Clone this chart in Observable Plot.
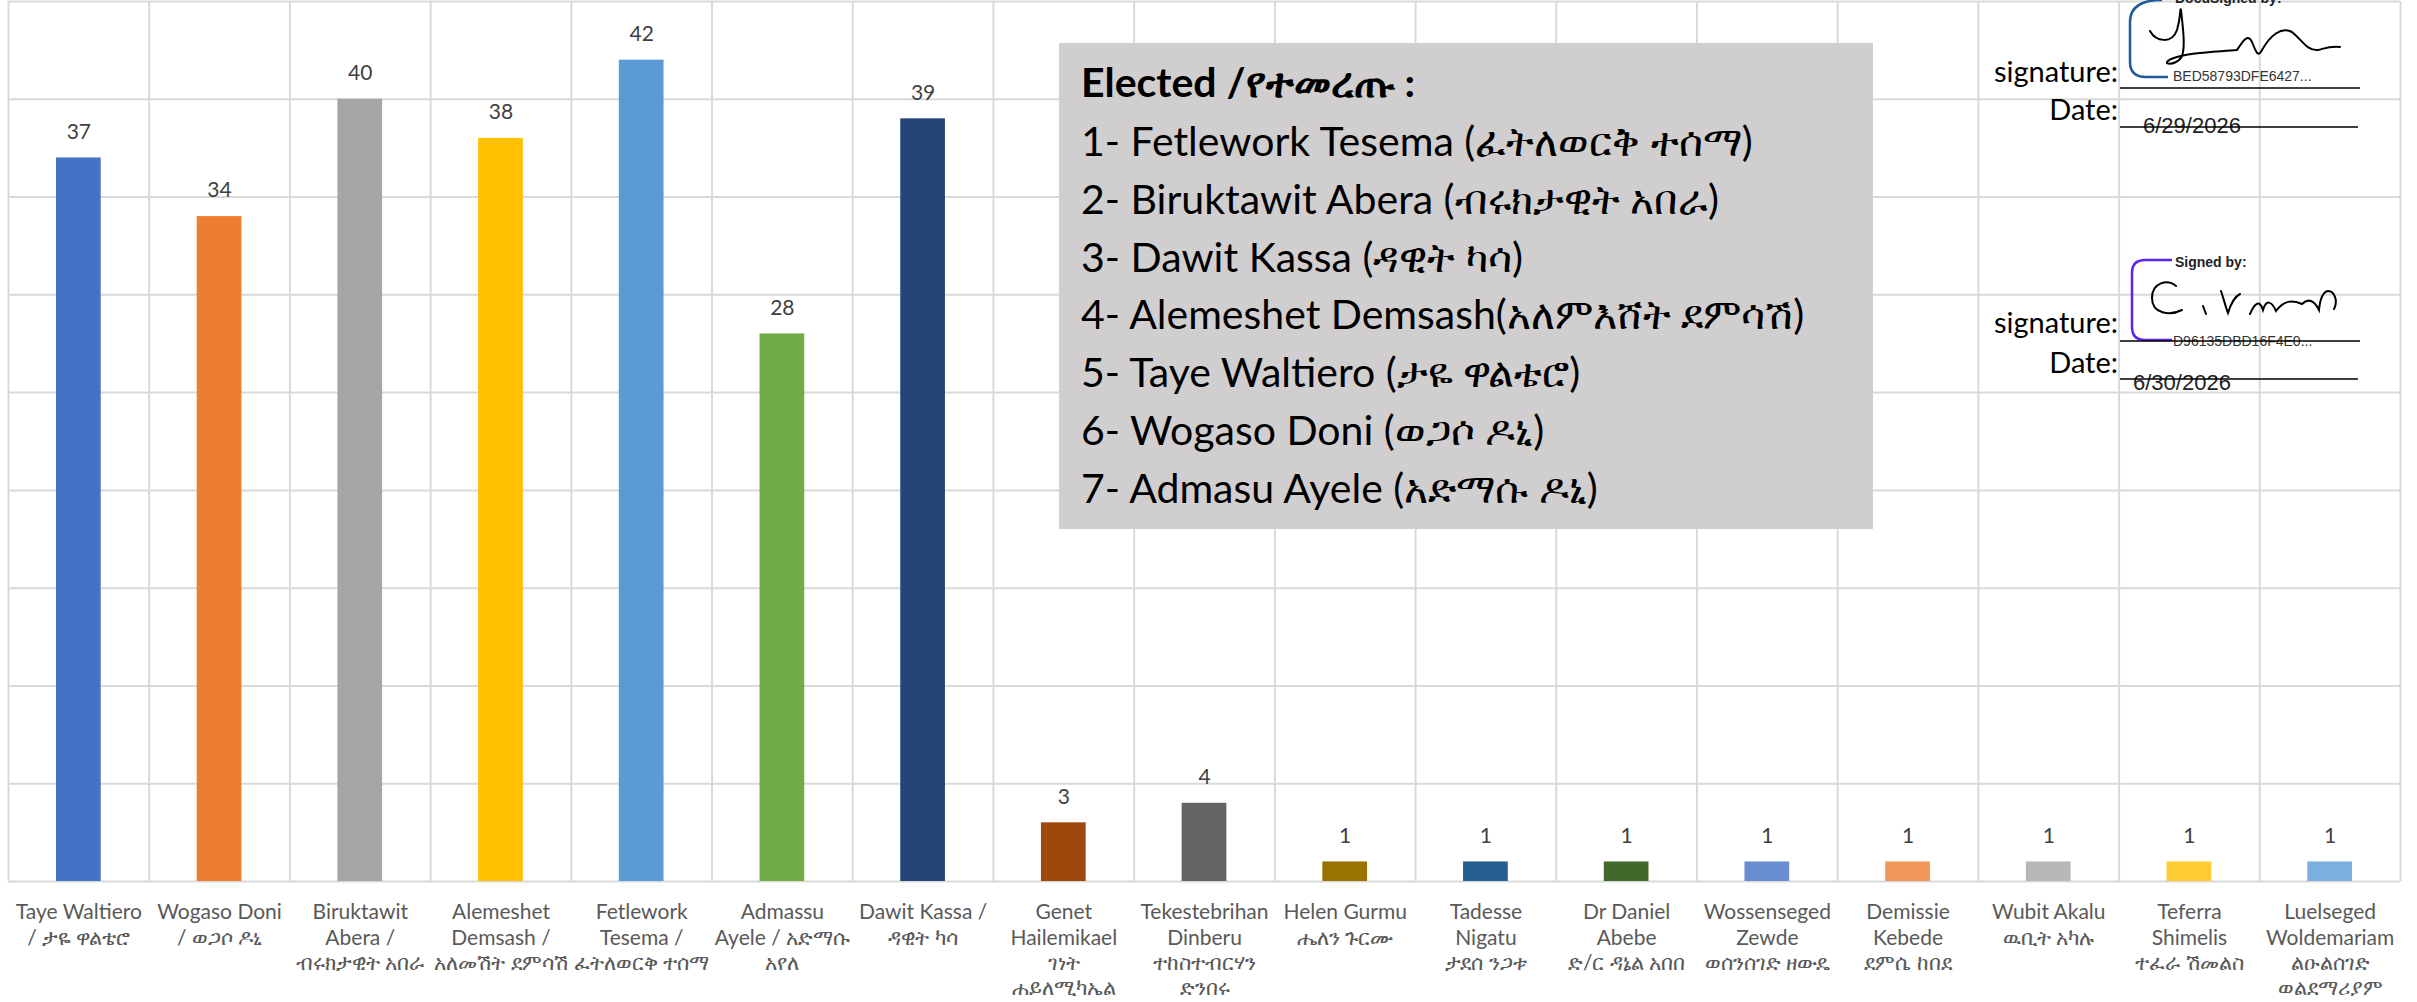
<!DOCTYPE html>
<html>
<head>
<meta charset="utf-8">
<script src="https://cdn.jsdelivr.net/npm/d3@7"></script>
<script src="https://cdn.jsdelivr.net/npm/@observablehq/plot@0.6"></script>
<style>
  html, body { margin: 0; padding: 0; background: #ffffff; }
  #wrap { position: relative; width: 2417px; height: 1002px; overflow: hidden; font-family: Lato, "Noto Sans", "DejaVu Sans", sans-serif; }
  #chart { position: absolute; left: 0; top: 0; }
  #overlay { position: absolute; left: 0; top: 0; pointer-events: none; }
</style>
</head>
<body>
<div id="wrap">
  <div id="chart"></div>
  <svg id="overlay" width="2417" height="1002"></svg>
</div>
<script>
// ---- data ----
const candidates = [
  "Taye Waltiero\n/ ታዬ ዋልቴሮ",
  "Wogaso Doni\n/ ወጋሶ ዶኒ",
  "Biruktawit\nAbera /\nብሩክታዊት አበራ",
  "Alemeshet\nDemsash /\nአለመሽት ደምሳሽ",
  "Fetlework\nTesema /\nፈትለወርቅ ተሰማ",
  "Admassu\nAyele / አድማሱ\nአየለ",
  "Dawit Kassa /\nዳዊት ካሳ",
  "Genet\nHailemikael\nገነት\nሐይለሚካኤል",
  "Tekestebrihan\nDinberu\nተከስተብርሃን\nድንበሩ",
  "Helen Gurmu\nሔለን ጉርሙ",
  "Tadesse\nNigatu\nታደሰ ንጋቱ",
  "Dr Daniel\nAbebe\nድ/ር ዳኔል አበበ",
  "Wossenseged\nZewde\nወሰንሰገድ ዘውዴ",
  "Demissie\nKebede\nደምሴ ከበደ",
  "Wubit Akalu\nዉቢት አካሉ",
  "Teferra\nShimelis\nተፈራ ሽመልስ",
  "Luelseged\nWoldemariam\nልዑልሰገድ\nወልደማሪያም"
];
const votes = [37, 34, 40, 38, 42, 28, 39, 3, 4, 1, 1, 1, 1, 1, 1, 1, 1];
const barColors = [
  "#4472C4", "#ED7D31", "#A5A5A5", "#FFC000", "#5B9BD5", "#70AD47", "#264478",
  "#9E480E", "#636363", "#997300", "#255E91", "#43682B", "#698ED0", "#F1975A",
  "#B7B7B7", "#FFCD33", "#7CAFDD"
];
const gridValues = [0, 5, 10, 15, 20, 25, 30, 35, 40, 45];

const electedTitle = "Elected /የተመረጡ :";
const electedList = [
  "1- Fetlework Tesema (ፈትለወርቅ ተሰማ)",
  "2- Biruktawit Abera (ብሩክታዊት አበራ)",
  "3- Dawit Kassa (ዳዊት ካሳ)",
  "4- Alemeshet Demsash(አለምእሸት ደምሳሽ)",
  "5- Taye Waltiero (ታዬ ዋልቴሮ)",
  "6- Wogaso Doni (ወጋሶ ዶኒ)",
  "7- Admasu Ayele (አድማሱ ዶኒ)"
];

const rows = candidates.map((c, i) => ({i, label: c, votes: votes[i], color: barColors[i]}));
const boundaries = d3.range(candidates.length + 1);

const fontStack = 'Lato, "Noto Sans", "DejaVu Sans", sans-serif';

const chart = Plot.plot({
  width: 2417,
  height: 1002,
  marginLeft: 8,
  marginRight: 17,
  marginTop: 1,
  marginBottom: 121,
  x: {domain: [0, candidates.length], axis: null},
  y: {domain: [0, 45], axis: null},
  style: {fontFamily: fontStack, background: "#ffffff", overflow: "visible"},
  marks: [
    Plot.gridY(gridValues, {stroke: "#d9d9d9", strokeOpacity: 1, strokeWidth: 2}),
    Plot.ruleX(boundaries, {stroke: "#d9d9d9", strokeWidth: 2}),
    Plot.rectY(rows, {x1: "i", x2: d => d.i + 1, y: "votes", fill: "color", insetLeft: 48, insetRight: 48}),
    Plot.text(rows, {x: d => d.i + 0.5, y: "votes", text: d => String(d.votes), dy: -26, fontSize: 21, fill: "#404040"}),
    Plot.text(rows, {x: d => d.i + 0.5, y: 0, text: "label", lineAnchor: "top", dy: 20, fontSize: 21, lineHeight: 1.2, fill: "#595959"})
  ]
});
document.getElementById("chart").appendChild(chart);

// ---- overlay: elected text box and signature block ----
const ov = d3.select("#overlay");
ov.append("rect").attr("x", 1059).attr("y", 43).attr("width", 814).attr("height", 486).attr("fill", "#D0CECE");
ov.append("text").attr("x", 1081).attr("y", 97).attr("font-family", fontStack).attr("font-size", 41)
  .attr("font-weight", "bold").attr("fill", "#000").text(electedTitle);
electedList.forEach((t, k) => {
  ov.append("text").attr("x", 1081).attr("y", 156 + 57.8 * k).attr("font-family", fontStack)
    .attr("font-size", 41).attr("fill", "#000").text(t);
});

const sigBlocks = [
  {sigY: 82, lineY: 88, dateY: 120, dateLineY: 127, dateText: "6/29/2026", dateX: 2143, dateBase: 133,
   head: "DocuSigned by:", headY: 3, code: "BED58793DFE6427...", codeY: 81, bracket: "#1F5B9A",
   bracketPath: "M2162,0 Q2130,0 2130,22 L2130,62 Q2130,77 2146,77 L2168,77",
   ink: "M2150,31 C2156,42 2172,44 2177,30 C2181,17 2180,6 2181,10 C2183,28 2186,50 2181,58 C2174,66 2160,65 2171,59 C2190,52 2216,52 2237,50 C2243,41 2248,33 2252,42 C2256,52 2258,58 2262,50 C2270,36 2281,26 2292,32 C2302,40 2307,51 2318,50 C2326,48 2330,46 2340,47"},
  {sigY: 333, lineY: 341, dateY: 373, dateLineY: 379, dateText: "6/30/2026", dateX: 2133, dateBase: 390,
   head: "Signed by:", headY: 267, code: "D96135DBD16F4E0...", codeY: 346, bracket: "#5B22F2",
   bracketPath: "M2172,260 L2145,260 Q2132,260 2132,273 L2132,327 Q2132,340 2145,340 L2172,340",
   ink: "M2176,286 C2168,279 2152,282 2152,298 C2152,314 2170,316 2182,310 M2203,306 L2206,314 M2221,291 C2224,300 2226,308 2228,313 C2231,303 2234,297 2240,294 M2250,314 C2255,302 2260,300 2263,310 C2266,300 2271,300 2276,311 C2284,300 2292,300 2302,304 C2308,298 2314,300 2319,310 C2320,300 2322,292 2328,291 C2335,291 2338,302 2334,309"}
];
sigBlocks.forEach(s => {
  ov.append("text").attr("x", 2118).attr("y", s.sigY).attr("text-anchor", "end").attr("font-family", fontStack)
    .attr("font-size", 29).attr("fill", "#000").text("signature:");
  ov.append("text").attr("x", 2118).attr("y", s.dateY).attr("text-anchor", "end").attr("font-family", fontStack)
    .attr("font-size", 29).attr("fill", "#000").text("Date:");
  ov.append("path").attr("d", s.bracketPath).attr("fill", "none").attr("stroke", s.bracket).attr("stroke-width", 2.5);
  ov.append("text").attr("x", 2175).attr("y", s.headY).attr("font-family", "Liberation Sans, Arial, sans-serif")
    .attr("font-size", 14).attr("font-weight", "bold").attr("fill", "#222").text(s.head);
  ov.append("path").attr("d", s.ink).attr("fill", "none").attr("stroke", "#000").attr("stroke-width", 2)
    .attr("stroke-linecap", "round");
  ov.append("text").attr("x", 2173).attr("y", s.codeY).attr("font-family", "Liberation Sans, Arial, sans-serif")
    .attr("font-size", 14).attr("fill", "#333").text(s.code);
  ov.append("line").attr("x1", 2120).attr("x2", 2360).attr("y1", s.lineY).attr("y2", s.lineY).attr("stroke", "#000").attr("stroke-width", 1.5);
  ov.append("text").attr("x", s.dateX).attr("y", s.dateBase).attr("font-family", "Liberation Sans, Arial, sans-serif")
    .attr("font-size", 22).attr("fill", "#222").text(s.dateText);
  ov.append("line").attr("x1", 2120).attr("x2", 2358).attr("y1", s.dateLineY).attr("y2", s.dateLineY).attr("stroke", "#000").attr("stroke-width", 1.5);
});
</script>
</body>
</html>
